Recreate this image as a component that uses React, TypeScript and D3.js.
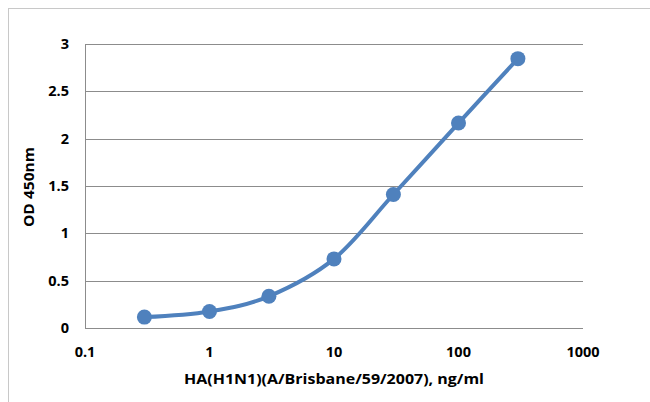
import React from "react";
import * as d3 from "d3";

const concentrations = [0.3, 1, 3, 10, 30, 100, 300];
const odValues = [0.115, 0.175, 0.335, 0.73, 1.41, 2.165, 2.845];
const xTicks = [0.1, 1, 10, 100, 1000];
const yTicks = [0, 0.5, 1, 1.5, 2, 2.5, 3];
const xTitle = "HA(H1N1)(A/Brisbane/59/2007), ng/ml";
const yTitle = "OD 450nm";

export default function App() {
  const W = 650, H = 402;
  const left = 85, right = 583, top = 44, bottom = 328;
  const x = d3.scaleLog().domain([0.1, 1000]).range([left, right]);
  const y = d3.scaleLinear().domain([0, 3]).range([bottom, top]);
  const pts: [number, number][] = concentrations.map((c, i) => [x(c), y(odValues[i])]);
  const line = d3.line().curve(d3.curveCardinal.tension(0))(pts) || "";
  const font = "'Open Sans', sans-serif";
  const fs = 14.5;
  return (
    <svg width={W} height={H} style={{ position: "absolute", left: 0, top: 0 }}>
      <rect x={0} y={0} width={W} height={H} fill="#fff" />
      <rect x={8.5} y={8.5} width={W + 10} height={H + 10} fill="none" stroke="#c8c8c8" strokeWidth={1} />
      {yTicks.map((t) => (
        <line key={"g" + t} x1={left} x2={right} y1={Math.round(y(t)) + 0.5} y2={Math.round(y(t)) + 0.5} stroke="#8c8c8c" strokeWidth={1} />
      ))}
      <line x1={left + 0.5} x2={left + 0.5} y1={top} y2={bottom + 0.5} stroke="#8c8c8c" strokeWidth={1} />
      {yTicks.map((t) => (
        <text key={"yt" + t} x={69} y={y(t)} dy="0.35em" textAnchor="end" fontFamily={font} fontWeight="bold" fontSize={fs} fill="#000">
          {t}
        </text>
      ))}
      {xTicks.map((t) => (
        <text key={"xt" + t} x={x(t)} y={352} dy="0.35em" textAnchor="middle" fontFamily={font} fontWeight="bold" fontSize={fs} fill="#000">
          {t}
        </text>
      ))}
      <text x={334} y={379} dy="0.35em" textAnchor="middle" textLength={300} lengthAdjust="spacingAndGlyphs" fontFamily={font} fontWeight="bold" fontSize={fs} fill="#000">
        {xTitle}
      </text>
      <text transform={`translate(29,187) rotate(-90)`} dy="0.35em" textAnchor="middle" textLength={80} lengthAdjust="spacingAndGlyphs" fontFamily={font} fontWeight="bold" fontSize={fs} fill="#000">
        {yTitle}
      </text>
      <path d={line} fill="none" stroke="#4f81bd" strokeWidth={4} strokeLinecap="round" strokeLinejoin="round" />
      {pts.map((p, i) => (
        <circle key={"c" + i} cx={p[0]} cy={p[1]} r={7.5} fill="#4f81bd" />
      ))}
    </svg>
  );
}
